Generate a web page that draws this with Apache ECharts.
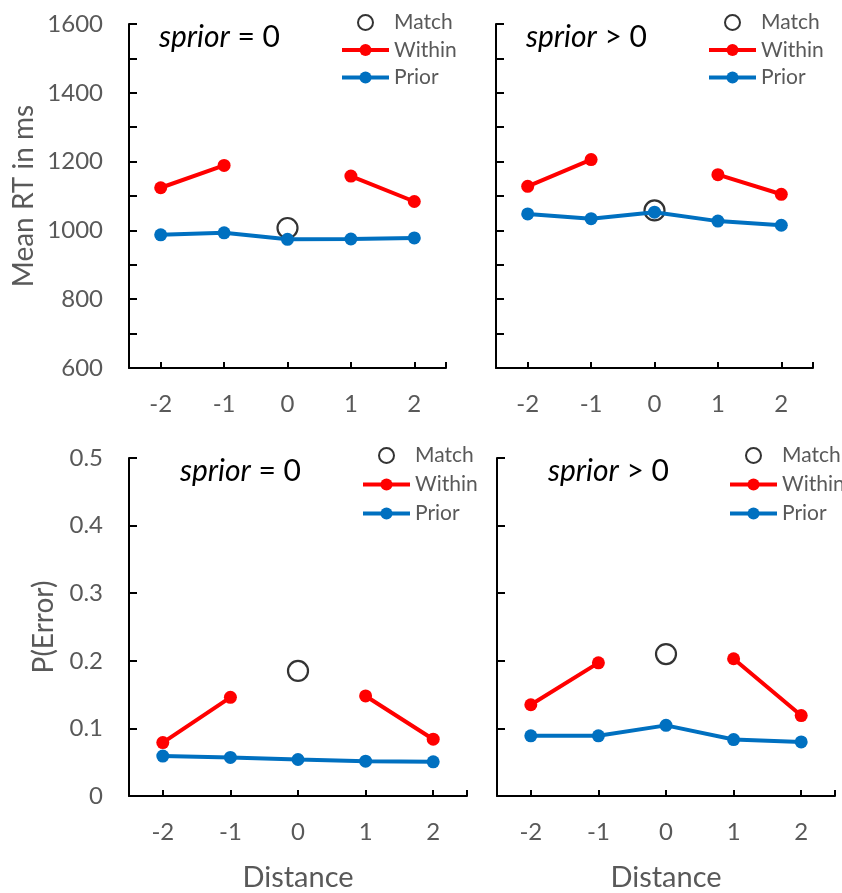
<!DOCTYPE html>
<html><head><meta charset="utf-8">
<script src="https://cdn.jsdelivr.net/npm/echarts@6/dist/echarts.min.js"></script>
<style>html,body{margin:0;padding:0;background:#fff}#c{width:842px;height:893px}</style>
</head><body><div id="c"></div>
<script>
// ---- data ----
const distances = [-2, -1, 0, 1, 2];
const distanceLabels = ['-2', '-1', '0', '1', '2'];
const rtWithinZero  = [1124, 1189, null, 1158, 1084];
const rtPriorZero   = [987, 993, 974, 975, 978];
const rtMatchZero   = [null, null, 1007, null, null];
const rtWithinPos   = [1128, 1206, null, 1162, 1105];
const rtPriorPos    = [1048, 1034, 1053, 1027, 1015];
const rtMatchPos    = [null, null, 1058, null, null];
const errWithinZero = [0.079, 0.146, null, 0.148, 0.084];
const errPriorZero  = [0.059, 0.057, 0.054, 0.0515, 0.0505];
const errMatchZero  = [null, null, 0.185, null, null];
const errWithinPos  = [0.135, 0.197, null, 0.203, 0.119];
const errPriorPos   = [0.089, 0.089, 0.1045, 0.0835, 0.080];
const errMatchPos   = [null, null, 0.210, null, null];
const rtTickLabels  = [600, 800, 1000, 1200, 1400, 1600];
const panelTitles   = ['{i|sprior} = 0', '{i|sprior} > 0', '{i|sprior} = 0', '{i|sprior} > 0'];
const legendNames   = ['Match', 'Within', 'Prior'];

// ---- style ----
const FONT = 'Lato';
const GRAY = '#595959';
const RED = '#FF0000';
const BLUE = '#0070C0';

const grids = [
  {left: 129, top: 24, width: 317, height: 344},
  {left: 496, top: 24, width: 317, height: 344},
  {left: 129, top: 458, width: 338, height: 343},
  {left: 497, top: 458, width: 338, height: 343}
];

const pair = arr => distances.map((d, i) => [d, arr[i]]);

const xAxes = grids.map((g, i) => ({
  type: 'value', gridIndex: i, min: -2.5, max: 2.5,
  name: i >= 2 ? 'Distance' : '', nameLocation: 'middle', nameGap: 67,
  nameTextStyle: {fontFamily: FONT, fontSize: 29, color: GRAY},
  axisLine: {show: true, onZero: false, lineStyle: {color: '#000', width: 2}},
  axisTick: {show: true, inside: true, length: 6, lineStyle: {color: '#000', width: 2},
             customValues: [-2, -1, 0, 1, 2, 2.5]},
  axisLabel: {customValues: distances, margin: 24, fontFamily: FONT, fontSize: 24, color: GRAY,
              formatter: v => distanceLabels[distances.indexOf(v)]},
  splitLine: {show: false}
}));

const yAxes = grids.map((g, i) => {
  const top = i < 2;
  return {
    type: 'value', gridIndex: i,
    min: top ? 600 : 0, max: top ? 1600 : 0.5, interval: top ? 100 : 0.1,
    name: i === 0 ? 'Mean RT in ms' : (i === 2 ? 'P(Error)' : ''),
    nameLocation: 'middle', nameGap: i === 0 ? 91 : 71,
    nameTextStyle: {fontFamily: FONT, fontSize: 28, color: GRAY},
    axisLine: {show: true, onZero: false, lineStyle: {color: '#000', width: 2}},
    axisTick: {show: true, inside: true, length: 8, lineStyle: {color: '#000', width: 2}},
    axisLabel: {show: i % 2 === 0, margin: 26, fontFamily: FONT, fontSize: 24, color: GRAY,
      formatter: v => top ? (rtTickLabels.indexOf(v) >= 0 ? String(v) : '')
                          : (v === 0 ? '0' : v.toFixed(1))},
    splitLine: {show: false}
  };
});

const panelData = [
  [rtMatchZero, rtWithinZero, rtPriorZero],
  [rtMatchPos, rtWithinPos, rtPriorPos],
  [errMatchZero, errWithinZero, errPriorZero],
  [errMatchPos, errWithinPos, errPriorPos]
];

const series = [];
panelData.forEach((d, i) => {
  series.push({
    name: 'Match', type: 'scatter', xAxisIndex: i, yAxisIndex: i, data: pair(d[0]),
    symbol: 'circle', symbolSize: 20, z: 2,
    itemStyle: {color: 'rgba(255,255,255,0)', borderColor: '#000', borderWidth: 2.2}
  });
  series.push({
    name: 'Within', type: 'line', xAxisIndex: i, yAxisIndex: i, data: pair(d[1]),
    connectNulls: false, symbol: 'circle', symbolSize: 13, z: 3,
    lineStyle: {color: RED, width: 4}, itemStyle: {color: RED}
  });
  series.push({
    name: 'Prior', type: 'line', xAxisIndex: i, yAxisIndex: i, data: pair(d[2]),
    symbol: 'circle', symbolSize: 13, z: 3,
    lineStyle: {color: BLUE, width: 4}, itemStyle: {color: BLUE}
  });
});

const titlePos = [{left: 159, top: 22}, {left: 526, top: 22}, {left: 180, top: 456}, {left: 548, top: 456}];
const titles = titlePos.map((p, i) => ({
  text: panelTitles[i], left: p.left, top: p.top, padding: 0,
  textStyle: {fontFamily: FONT, fontSize: 30, fontWeight: 'normal', color: '#000',
    rich: {i: {fontFamily: FONT, fontSize: 30, fontStyle: 'italic', color: '#000'}}}
}));

const legendPos = [
  {left: 340, top: 12, gap: 6.5}, {left: 707, top: 12, gap: 6.5},
  {left: 361, top: 445, gap: 8}, {left: 728, top: 445, gap: 8}
];
const legends = legendPos.map(p => ({
  orient: 'vertical', left: p.left, top: p.top, padding: 0,
  itemWidth: 47, itemHeight: 15, itemGap: p.gap,
  selectedMode: false, data: legendNames,
  lineStyle: {width: 4},
  textStyle: {fontFamily: FONT, fontSize: 21, color: GRAY}
}));

const chart = echarts.init(document.getElementById('c'), null, {renderer: 'canvas'});
chart.setOption({
  animation: false,
  backgroundColor: '#fff',
  title: titles,
  legend: legends,
  grid: grids,
  xAxis: xAxes,
  yAxis: yAxes,
  series: series
});
</script></body></html>
